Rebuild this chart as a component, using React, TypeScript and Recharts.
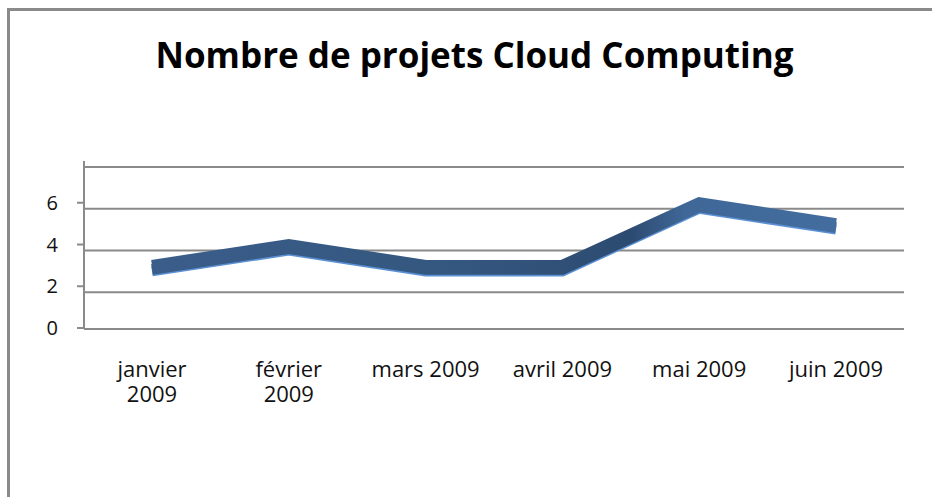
import React from "react";
import { LineChart, Line, XAxis, YAxis, CartesianGrid } from "recharts";

const categories = ["janvier 2009", "février 2009", "mars 2009", "avril 2009", "mai 2009", "juin 2009"];
const projets = [3, 4, 3, 3, 6, 5];
const yTicks = [0, 2, 4, 6];
const gridValues = [2, 4, 6, 8];
const boundaryTicks = [0, 1, 2, 3, 4, 5, 6];

const data = categories.map((c, i) => ({ mois: c, projets: projets[i] }));

const FONT = "'Open Sans', 'Noto Sans', sans-serif";
const GREY = "#8a8a8a";

const XTick = (props: any) => {
  const { x, y, payload } = props;
  const label: string = String(payload.value);
  const idx = label.lastIndexOf(" ");
  const lines = label.length > 10 && idx > 0 ? [label.slice(0, idx), label.slice(idx + 1)] : [label];
  return (
    <text x={x} y={y + 41} textAnchor="middle" fontSize={22} fontFamily={FONT} fill="#111">
      {lines.map((l, i) => (
        <tspan key={i} x={x} dy={i === 0 ? 0 : 25}>
          {l}
        </tspan>
      ))}
    </text>
  );
};

const ribbonLine = (id: string, axis: string, stroke: string, width: number) => (
  <Line
    key={id}
    xAxisId="cat"
    yAxisId={axis}
    dataKey="projets"
    stroke={stroke}
    strokeWidth={width}
    strokeLinejoin="miter"
    strokeLinecap="butt"
    dot={false}
    activeDot={false}
    isAnimationActive={false}
  />
);

export default function App() {
  return (
    <div style={{ position: "absolute", left: 0, top: 0, width: 932, height: 497, overflow: "hidden", background: "#fff" }}>
      <div
        style={{
          position: "absolute",
          left: 7,
          top: 8,
          width: 960,
          height: 520,
          borderLeft: `3px solid ${GREY}`,
          borderTop: `3px solid ${GREY}`,
        }}
      />
      <div
        style={{
          position: "absolute",
          left: 0,
          top: 32,
          width: 949,
          textAlign: "center",
          fontFamily: FONT,
          fontWeight: 700,
          fontSize: 35,
          lineHeight: "46px",
          color: "#000",
        }}
      >
        Nombre de projets Cloud Computing
      </div>
      <div style={{ position: "absolute", left: 0, top: 0 }}>
        <LineChart width={932} height={497} data={data} margin={{ top: 161, right: 28, bottom: 167, left: 0 }}>
          <defs>
            <linearGradient id="ribbon" x1="0" y1="0" x2="1" y2="0">
              <stop offset="0%" stopColor="#3a5d8a" />
              <stop offset="45%" stopColor="#34577f" />
              <stop offset="70%" stopColor="#2d4b71" />
              <stop offset="78%" stopColor="#3f6898" />
              <stop offset="100%" stopColor="#436d9e" />
            </linearGradient>
          </defs>
          <CartesianGrid
            xAxisId="cat"
            yAxisId="back"
            vertical={false}
            horizontalValues={gridValues}
            stroke={GREY}
            strokeWidth={2}
          />
          <XAxis
            xAxisId="cat"
            dataKey="mois"
            padding={{ left: 68, right: 68 }}
            axisLine={false}
            tickLine={false}
            tick={<XTick />}
            interval={0}
            height={1}
          />
          <XAxis
            xAxisId="grid"
            type="number"
            domain={[0, 6]}
            ticks={boundaryTicks}
            tick={false}
            tickLine={{ stroke: GREY, strokeWidth: 2 }}
            tickSize={7}
            axisLine={{ stroke: GREY, strokeWidth: 2 }}
            height={1}
            allowDataOverflow
          />
          <YAxis
            yAxisId="front"
            domain={[0, 8]}
            ticks={yTicks}
            width={84}
            tickSize={7}
            tickMargin={19}
            interval={0}
            axisLine={{ stroke: GREY, strokeWidth: 2 }}
            tickLine={{ stroke: GREY, strokeWidth: 2 }}
            tick={{ fontSize: 20, fontFamily: FONT, fill: "#111" }}
          />
          <YAxis yAxisId="back" hide width={0} domain={[0.29, 8.29]} allowDataOverflow />
          <YAxis yAxisId="low" hide width={0} domain={[0.19, 8.19]} allowDataOverflow />
          {ribbonLine("edge", "back", "#5b91d4", 10)}
          {ribbonLine("low", "low", "url(#ribbon)", 11)}
          {ribbonLine("main", "front", "url(#ribbon)", 11)}
        </LineChart>
      </div>
    </div>
  );
}
